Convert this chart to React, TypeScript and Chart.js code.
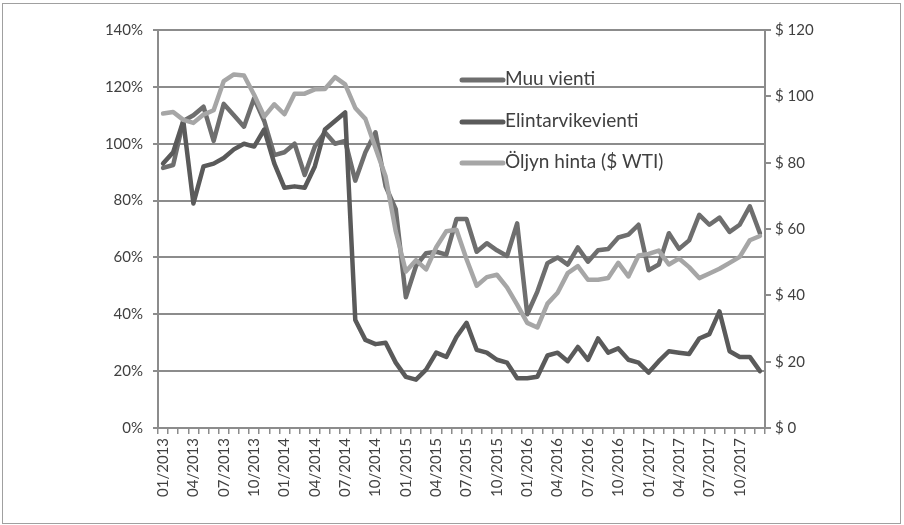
import React, { useEffect, useRef } from "react";
import { Chart, registerables } from "chart.js";

Chart.register(...registerables);

const years = ["2013", "2014", "2015", "2016", "2017"];
const months = ["01", "02", "03", "04", "05", "06", "07", "08", "09", "10", "11", "12"];
const categories: string[] = [];
years.forEach((y) => months.forEach((m) => categories.push(`${m}/${y}`)));

const muuVienti = [
  91.5, 92.5, 108, 110, 113, 101, 114, 110, 106, 116, 108, 96,
  97, 100, 89, 99, 104, 100, 101, 87, 97, 104, 85, 77,
  46, 57, 61.5, 62, 61, 73.5, 73.5, 62, 65, 62.5, 60.5, 72,
  40, 48, 58, 60, 57.5, 63.5, 58.5, 62.5, 63, 67, 68, 71.5,
  55.5, 57.5, 68.5, 63, 66, 75, 71.5, 74, 69, 71.5, 78, 68.5,
];

const elintarvikevienti = [
  93, 97, 108, 79, 92, 93, 95, 98, 100, 99, 105, 93,
  84.5, 85, 84.5, 92, 105, 108, 111, 38, 31, 29.5, 30, 23,
  18, 17, 20.5, 26.5, 25, 32, 37, 27.5, 26.5, 24, 23, 17.5,
  17.5, 18, 25.5, 26.5, 23.5, 28.5, 24, 31.5, 26.5, 28, 24, 23,
  19.5, 23.5, 27, 26.5, 26, 31.5, 33, 41, 27, 25, 25, 20,
];

const oljynHinta = [
  94.8, 95.3, 92.9, 92.0, 94.5, 95.8, 104.6, 106.6, 106.3, 100.5, 93.9, 97.6,
  94.6, 100.8, 100.8, 102.1, 102.2, 105.8, 103.6, 96.5, 93.2, 84.4, 75.8, 59.3,
  47.2, 50.6, 47.8, 54.5, 59.3, 59.8, 50.9, 42.9, 45.5, 46.2, 42.4, 37.2,
  31.7, 30.3, 37.5, 40.8, 46.7, 48.8, 44.7, 44.7, 45.2, 49.8, 45.7, 52.0,
  52.5, 53.5, 49.3, 51.1, 48.5, 45.2, 46.6, 48.0, 49.8, 51.6, 56.6, 57.9,
];

const seriesNames = ["Muu vienti", "Elintarvikevienti", "Öljyn hinta ($ WTI)"];
const seriesColors = ["#6e6e6e", "#5a5a5a", "#a6a6a6"];

const FONT = "Lato, 'Liberation Sans', sans-serif";
const GRID = "#8c8c8c";
const TEXT = "#404040";

const legendPlugin = {
  id: "customLegend",
  afterDraw(chart: any) {
    const ctx = chart.ctx;
    const ys = [79, 121, 162];
    ctx.save();
    ctx.font = `19px ${FONT}`;
    ctx.textBaseline = "middle";
    ys.forEach((y, i) => {
      ctx.strokeStyle = seriesColors[i];
      ctx.lineWidth = 5;
      ctx.lineCap = "round";
      ctx.beginPath();
      ctx.moveTo(462, y + 1);
      ctx.lineTo(503, y + 1);
      ctx.stroke();
      ctx.fillStyle = TEXT;
      ctx.fillText(seriesNames[i], 505, y);
    });
    ctx.restore();
  },
};

export default function App() {
  const ref = useRef<HTMLCanvasElement>(null);

  useEffect(() => {
    const canvas = ref.current;
    if (!canvas) return;
    const chart = new Chart(canvas, {
      type: "line",
      data: {
        labels: categories,
        datasets: [
          {
            label: seriesNames[0],
            data: muuVienti,
            borderColor: seriesColors[0],
            backgroundColor: seriesColors[0],
            borderWidth: 4.5,
            pointRadius: 0,
            yAxisID: "y",
            order: 2,
            borderJoinStyle: "round",
            borderCapStyle: "round",
          },
          {
            label: seriesNames[1],
            data: elintarvikevienti,
            borderColor: seriesColors[1],
            backgroundColor: seriesColors[1],
            borderWidth: 4.5,
            pointRadius: 0,
            yAxisID: "y",
            order: 1,
            borderJoinStyle: "round",
            borderCapStyle: "round",
          },
          {
            label: seriesNames[2],
            data: oljynHinta,
            borderColor: seriesColors[2],
            backgroundColor: seriesColors[2],
            borderWidth: 4.5,
            pointRadius: 0,
            yAxisID: "y1",
            order: 0,
            borderJoinStyle: "round",
            borderCapStyle: "round",
          },
        ],
      },
      options: {
        animation: false,
        responsive: true,
        maintainAspectRatio: false,
        layout: { padding: { top: 30, left: 0, right: 0, bottom: 0 } },
        plugins: {
          legend: { display: false },
          tooltip: { enabled: false },
        },
        scales: {
          x: {
            type: "category",
            offset: true,
            afterFit: (s: any) => {
              s.height = 97;
            },
            grid: {
              display: true,
              drawOnChartArea: false,
              drawTicks: true,
              tickLength: 6,
              color: GRID,
              lineWidth: 1.5,
              offset: true,
            },
            border: { display: true, color: GRID, width: 2 },
            ticks: {
              autoSkip: false,
              minRotation: 90,
              maxRotation: 90,
              padding: 4,
              color: TEXT,
              font: { family: FONT, size: 15 },
              callback: (_v: any, i: number) => (i % 3 === 0 ? categories[i] : ""),
            },
          },
          y: {
            position: "left",
            min: 0,
            max: 140,
            afterFit: (s: any) => {
              s.width = 158;
            },
            ticks: {
              stepSize: 20,
              padding: 10,
              color: TEXT,
              font: { family: FONT, size: 15 },
              callback: (v: any) => `${v}%`,
            },
            grid: {
              color: GRID,
              lineWidth: 2,
              drawTicks: true,
              tickLength: 5,
            },
            border: { display: true, color: GRID, width: 2 },
          },
          y1: {
            position: "right",
            min: 0,
            max: 120,
            afterFit: (s: any) => {
              s.width = 139;
            },
            ticks: {
              stepSize: 20,
              padding: 4,
              color: TEXT,
              font: { family: FONT, size: 15 },
              callback: (v: any) => `$ ${v}`,
            },
            grid: {
              drawOnChartArea: false,
              color: GRID,
              lineWidth: 2,
              drawTicks: true,
              tickLength: 6,
            },
            border: { display: true, color: GRID, width: 2 },
          },
        },
      },
      plugins: [legendPlugin],
    } as any);
    return () => chart.destroy();
  }, []);

  return (
    <div style={{ position: "absolute", left: 0, top: 0, width: 904, height: 525, background: "#fff" }}>
      <canvas ref={ref} />
      <div
        style={{
          position: "absolute",
          left: 2,
          top: 3,
          width: 897,
          height: 519,
          border: "1px solid #a0a0a0",
          pointerEvents: "none",
        }}
      />
    </div>
  );
}
